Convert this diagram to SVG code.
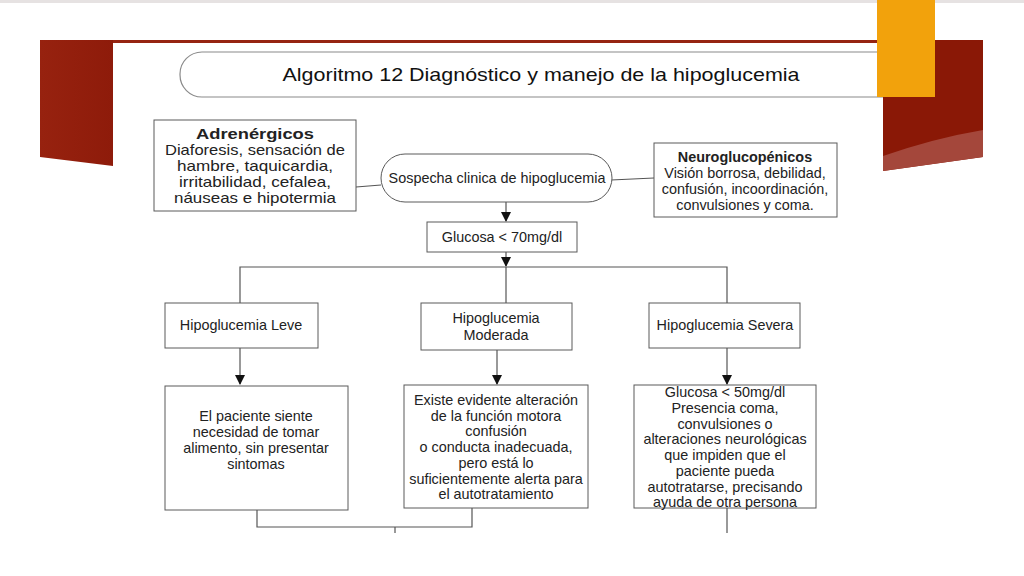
<svg xmlns="http://www.w3.org/2000/svg" width="1024" height="576" viewBox="0 0 1024 576">
<defs>
<marker id="ah" markerWidth="10" markerHeight="10" refX="9" refY="5" orient="auto" markerUnits="userSpaceOnUse"><path d="M0,0 L10,5 L0,10 Z" fill="#111"/></marker>
<linearGradient id="redL" x1="0" y1="0" x2="1" y2="0"><stop offset="0" stop-color="#97220f"/><stop offset="1" stop-color="#8e1b0a"/></linearGradient>
<style>
.box{fill:#fff;stroke:#5a5a5a;stroke-width:1}
.ln{fill:none;stroke:#555;stroke-width:1.2}
.t{font-family:"Liberation Sans",Arial,sans-serif;font-size:14.4px;fill:#222;text-anchor:middle}
.b{font-weight:bold}
</style>
</defs>
<rect width="1024" height="576" fill="#fff"/>
<rect x="0" y="0" width="1024" height="3" fill="#e6e2e2"/>
<g id="slide-decor">
<rect x="40" y="40" width="840" height="3" fill="#962412"/>
<polygon points="40,40 113,40 113,166 40,157" fill="url(#redL)"/>
</g>
<g id="title">
<rect x="180" y="52" width="740" height="45" rx="22" ry="22" fill="#fff" stroke="#8a8a8a" stroke-width="1.2"/>
<text x="541" y="81" font-family="'Liberation Sans',Arial,sans-serif" font-size="19" fill="#111" text-anchor="middle" textLength="517" lengthAdjust="spacingAndGlyphs">Algoritmo 12 Diagnóstico y manejo de la hipoglucemia</text>
</g>
<g id="connectors">
<line class="ln" x1="356" y1="187" x2="381" y2="185"/>
<line class="ln" x1="611" y1="180" x2="654" y2="178"/>
<line class="ln" x1="506" y1="202" x2="506" y2="221" marker-end="url(#ah)"/>
<line class="ln" x1="506" y1="252" x2="506" y2="266" marker-end="url(#ah)"/>
<polyline class="ln" points="240,303 240,267 727,267 727,303"/>
<line class="ln" x1="506" y1="267" x2="506" y2="303"/>
<line class="ln" x1="240" y1="348" x2="240" y2="384" marker-end="url(#ah)"/>
<line class="ln" x1="497" y1="350" x2="497" y2="384" marker-end="url(#ah)"/>
<line class="ln" x1="727" y1="348" x2="727" y2="384" marker-end="url(#ah)"/>
<polyline class="ln" points="257,510 257,527 472,527 472,508"/>
<line class="ln" x1="395" y1="527" x2="395" y2="533"/>
<line class="ln" x1="727" y1="508" x2="727" y2="533"/>
</g>
<g id="adrenergicos">
<rect class="box" x="154" y="120" width="202" height="91"/>
<text class="t b" x="255" y="139" textLength="118" lengthAdjust="spacingAndGlyphs">Adrenérgicos</text>
<text class="t" x="255" y="155" textLength="180" lengthAdjust="spacingAndGlyphs">Diaforesis, sensación de</text>
<text class="t" x="255" y="171" textLength="156" lengthAdjust="spacingAndGlyphs">hambre, taquicardia,</text>
<text class="t" x="255" y="187" textLength="152" lengthAdjust="spacingAndGlyphs">irritabilidad, cefalea,</text>
<text class="t" x="255" y="203" textLength="162" lengthAdjust="spacingAndGlyphs">náuseas e hipotermia</text>
</g>
<g id="sospecha">
<rect class="box" x="381" y="154" width="231" height="48" rx="24" ry="24"/>
<text class="t" x="497" y="183">Sospecha clinica de hipoglucemia</text>
</g>
<g id="neuroglucopenicos">
<rect class="box" x="654" y="143" width="183" height="74"/>
<text class="t b" x="745" y="162">Neuroglucopénicos</text>
<text class="t" x="745" y="178">Visión borrosa, debilidad,</text>
<text class="t" x="745" y="194">confusión, incoordinación,</text>
<text class="t" x="745" y="210">convulsiones y coma.</text>
</g>
<g id="glucosa70">
<rect class="box" x="427" y="222" width="150" height="30"/>
<text class="t" x="502" y="242">Glucosa &lt; 70mg/dl</text>
</g>
<g id="leve">
<rect class="box" x="165" y="303" width="153" height="45"/>
<text class="t" x="241" y="330">Hipoglucemia Leve</text>
</g>
<g id="moderada">
<rect class="box" x="421" y="303" width="151" height="47"/>
<text class="t" x="496" y="323">Hipoglucemia</text>
<text class="t" x="496" y="340">Moderada</text>
</g>
<g id="severa">
<rect class="box" x="649" y="303" width="151" height="45"/>
<text class="t" x="725" y="330">Hipoglucemia Severa</text>
</g>
<g id="leve-desc">
<rect class="box" x="165" y="386" width="183" height="124"/>
<text class="t" x="256" y="421">El paciente siente</text>
<text class="t" x="256" y="437">necesidad de tomar</text>
<text class="t" x="256" y="453">alimento, sin presentar</text>
<text class="t" x="256" y="469">sintomas</text>
</g>
<g id="moderada-desc">
<rect class="box" x="404" y="385" width="184" height="123"/>
<text class="t" x="496" y="405">Existe evidente alteración</text>
<text class="t" x="496" y="421">de la función motora</text>
<text class="t" x="496" y="436">confusión</text>
<text class="t" x="496" y="452">o conducta inadecuada,</text>
<text class="t" x="496" y="468">pero está lo</text>
<text class="t" x="496" y="484">suficientemente alerta para</text>
<text class="t" x="496" y="499">el autotratamiento</text>
</g>
<g id="severa-desc">
<rect class="box" x="634" y="385" width="182" height="123"/>
<text class="t" x="725" y="397">Glucosa &lt; 50mg/dl</text>
<text class="t" x="725" y="413">Presencia coma,</text>
<text class="t" x="725" y="429">convulsiones o</text>
<text class="t" x="725" y="444">alteraciones neurológicas</text>
<text class="t" x="725" y="460">que impiden que el</text>
<text class="t" x="725" y="476">paciente pueda</text>
<text class="t" x="725" y="492">autotratarse, precisando</text>
<text class="t" x="725" y="507">ayuda de otra persona</text>
</g>
<g id="slide-decor-right">
<polygon points="883,40 983,40 983,157 883,171" fill="#8a1806"/>
<path d="M883,156 Q935,138 983,130 L983,157 L883,171 Z" fill="#a4473b"/>
<rect x="877" y="0" width="58" height="97" fill="#f2a20c"/>
</g>
</svg>
